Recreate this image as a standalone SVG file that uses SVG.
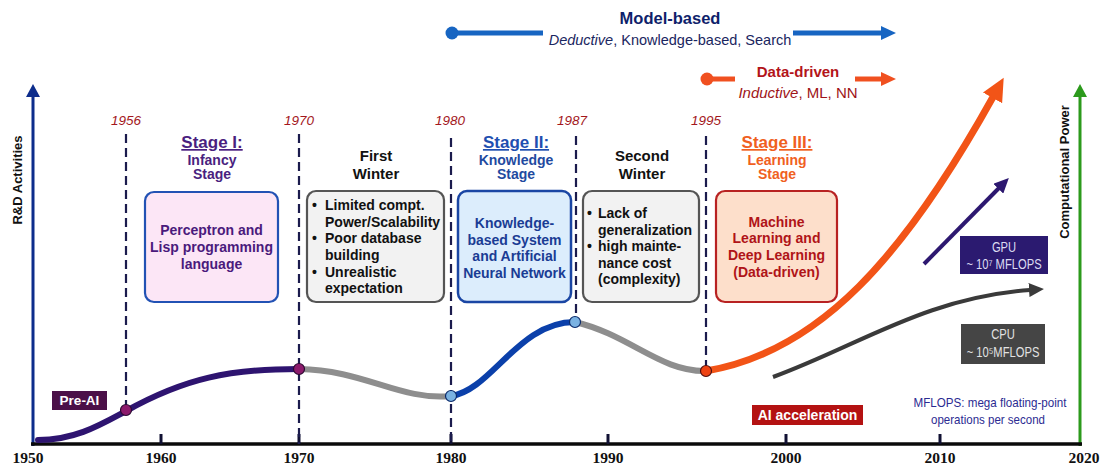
<svg xmlns="http://www.w3.org/2000/svg" width="1101" height="467" viewBox="0 0 1101 467">
  <style>
    text { font-family: "Liberation Sans", Arial, sans-serif; }
    .b { font-weight: bold; }
    .year { font-style: italic; font-size: 13.5px; fill: #a3171c; text-anchor: middle; }
    .axis { font-family: "Liberation Serif", "Times New Roman", serif; font-weight: bold; font-size: 15.5px; fill: #111; text-anchor: middle; }
    .dash { stroke: #1b1b4d; stroke-width: 2.2; stroke-dasharray: 9 5; fill: none; }
    .tick { stroke: #111133; stroke-width: 3; }
    .title { font-weight: bold; font-size: 17px; text-anchor: middle; text-decoration: underline; }
    .sub { font-weight: bold; font-size: 14px; text-anchor: middle; }
    .boxt { font-weight: bold; font-size: 14px; text-anchor: middle; }
    .list { font-weight: bold; font-size: 14px; fill: #111; }
    .curve { fill: none; stroke-width: 6; stroke-linecap: round; }
    .chip { font-size: 14px; text-anchor: middle; }
    .note { font-size: 13px; text-anchor: middle; fill: #2b2b92; }
  </style>
  <defs>
    <marker id="headOrange" markerUnits="userSpaceOnUse" markerWidth="24" markerHeight="22" refX="1" refY="11" orient="auto">
      <path d="M0,0 L23,11 L0,22 Z" fill="#f25417"/>
    </marker>
    <marker id="headOrangeSm" markerUnits="userSpaceOnUse" markerWidth="16" markerHeight="16" refX="1" refY="8" orient="auto">
      <path d="M0,1 L15,8 L0,15 Z" fill="#f05020"/>
    </marker>
    <marker id="headBlue" markerUnits="userSpaceOnUse" markerWidth="16" markerHeight="16" refX="1" refY="8" orient="auto">
      <path d="M0,1 L15,8 L0,15 Z" fill="#1765c2"/>
    </marker>
    <marker id="headPurple" markerUnits="userSpaceOnUse" markerWidth="16" markerHeight="14" refX="1" refY="7" orient="auto">
      <path d="M0,0 L15,7 L0,14 Z" fill="#2d1870"/>
    </marker>
    <marker id="headGray" markerUnits="userSpaceOnUse" markerWidth="16" markerHeight="14" refX="1" refY="7" orient="auto">
      <path d="M0,0 L15,7 L0,14 Z" fill="#3a3a3a"/>
    </marker>
    <marker id="headAxisBlue" markerUnits="userSpaceOnUse" markerWidth="14" markerHeight="14" refX="1" refY="7" orient="auto">
      <path d="M0,0 L13,7 L0,14 Z" fill="#0d2d8c"/>
    </marker>
    <marker id="headAxisGreen" markerUnits="userSpaceOnUse" markerWidth="14" markerHeight="14" refX="1" refY="7" orient="auto">
      <path d="M0,0 L13,7 L0,14 Z" fill="#2c9a1c"/>
    </marker>
  </defs>

  <rect width="1101" height="467" fill="#ffffff"/>

  <!-- paradigm bands across the top -->
  <g id="model-based">
    <circle cx="452" cy="33" r="6.5" fill="#1765c2"/>
    <line x1="452" y1="33" x2="543" y2="33" stroke="#1765c2" stroke-width="5"/>
    <line x1="793" y1="33" x2="882" y2="33" stroke="#1765c2" stroke-width="5" marker-end="url(#headBlue)"/>
    <text x="670" y="24" class="b" font-size="16.5" text-anchor="middle" fill="#0f1f6b">Model-based</text>
    <text x="670" y="45" font-size="14.5" text-anchor="middle" fill="#1a2660"><tspan font-style="italic">Deductive</tspan>, Knowledge-based, Search</text>
  </g>
  <g id="data-driven">
    <circle cx="707" cy="79" r="6.5" fill="#f05020"/>
    <line x1="707" y1="79" x2="735" y2="79" stroke="#f05020" stroke-width="5"/>
    <line x1="855" y1="79" x2="882" y2="79" stroke="#f05020" stroke-width="5" marker-end="url(#headOrangeSm)"/>
    <text x="798" y="77" class="b" font-size="15" text-anchor="middle" fill="#b3141a">Data-driven</text>
    <text x="798" y="98" font-size="15" text-anchor="middle" fill="#9e1418"><tspan font-style="italic">Inductive</tspan>, ML, NN</text>
  </g>

  <!-- axes -->
  <g id="axes">
    <line x1="33" y1="446" x2="33" y2="96" stroke="#0d2d8c" stroke-width="3" marker-end="url(#headAxisBlue)"/>
    <line x1="1080" y1="446" x2="1080" y2="96" stroke="#2c9a1c" stroke-width="3" marker-end="url(#headAxisGreen)"/>
    <line x1="31" y1="444" x2="1082" y2="444" stroke="#0a0a0a" stroke-width="3.5"/>
    <line class="tick" x1="161" y1="434" x2="161" y2="444"/>
    <line class="tick" x1="299" y1="434" x2="299" y2="444"/>
    <line class="tick" x1="451" y1="434" x2="451" y2="444"/>
    <line class="tick" x1="608" y1="434" x2="608" y2="444"/>
    <line class="tick" x1="786" y1="434" x2="786" y2="444"/>
    <line class="tick" x1="940" y1="434" x2="940" y2="444"/>
    <text class="axis" x="28" y="463">1950</text>
    <text class="axis" x="161" y="463">1960</text>
    <text class="axis" x="299" y="463">1970</text>
    <text class="axis" x="451" y="463">1980</text>
    <text class="axis" x="608" y="463">1990</text>
    <text class="axis" x="786" y="463">2000</text>
    <text class="axis" x="940" y="463">2010</text>
    <text class="axis" x="1084" y="463">2020</text>
    <text class="b" font-size="13" text-anchor="middle" fill="#111" transform="translate(22,180) rotate(-90)">R&amp;D Activities</text>
    <text class="b" font-size="13" text-anchor="middle" fill="#111" transform="translate(1069,172) rotate(-90)">Computational Power</text>
  </g>

  <!-- milestone years and dashed markers -->
  <g id="milestones">
    <text class="year" x="126" y="125">1956</text>
    <text class="year" x="299" y="125">1970</text>
    <text class="year" x="450" y="125">1980</text>
    <text class="year" x="572" y="125">1987</text>
    <text class="year" x="706" y="125">1995</text>
    <line class="dash" x1="126" y1="134" x2="126" y2="406"/>
    <line class="dash" x1="299" y1="134" x2="299" y2="444"/>
    <line class="dash" x1="451" y1="138" x2="451" y2="444"/>
    <line class="dash" x1="576" y1="136" x2="576" y2="318"/>
    <line class="dash" x1="706" y1="136" x2="706" y2="367"/>
  </g>

  <!-- Stage I -->
  <g id="stage1">
    <text class="title" x="212" y="148" fill="#4a1f80">Stage I:</text>
    <text class="sub" x="212" y="165" fill="#4a1f80">Infancy</text>
    <text class="sub" x="212" y="179" fill="#4a1f80">Stage</text>
    <rect x="145" y="192" width="133" height="110" rx="9" fill="#fce6f6" stroke="#2252b4" stroke-width="2.2"/>
    <text class="boxt" x="211.5" y="235" fill="#4a1a7c">Perceptron and</text>
    <text class="boxt" x="211.5" y="252" fill="#4a1a7c">Lisp programming</text>
    <text class="boxt" x="211.5" y="269" fill="#4a1a7c">language</text>
  </g>

  <!-- First Winter -->
  <g id="winter1">
    <text class="b" x="376" y="161" font-size="15" text-anchor="middle" fill="#111">First</text>
    <text class="b" x="376" y="179" font-size="15" text-anchor="middle" fill="#111">Winter</text>
    <rect x="307" y="191" width="137" height="111" rx="9" fill="#f2f2f2" stroke="#555555" stroke-width="2.2"/>
    <text class="list" x="312" y="210">•</text>
    <text class="list" x="325" y="210">Limited compt.</text>
    <text class="list" x="325" y="227">Power/Scalability</text>
    <text class="list" x="312" y="243">•</text>
    <text class="list" x="325" y="243">Poor database</text>
    <text class="list" x="325" y="260">building</text>
    <text class="list" x="312" y="277">•</text>
    <text class="list" x="325" y="277">Unrealistic</text>
    <text class="list" x="325" y="293">expectation</text>
  </g>

  <!-- Stage II -->
  <g id="stage2">
    <text class="title" x="516" y="148" fill="#1f4fb0">Stage II:</text>
    <text class="sub" x="516" y="165" fill="#1f4aa0">Knowledge</text>
    <text class="sub" x="516" y="179" fill="#1f4aa0">Stage</text>
    <rect x="458" y="191" width="113" height="111" rx="9" fill="#dcedfc" stroke="#1a46a4" stroke-width="2.5"/>
    <text class="boxt" x="514.5" y="228" fill="#1a3c94">Knowledge-</text>
    <text class="boxt" x="514.5" y="245" fill="#1a3c94">based System</text>
    <text class="boxt" x="514.5" y="261" fill="#1a3c94">and Artificial</text>
    <text class="boxt" x="514.5" y="278" fill="#1a3c94">Neural Network</text>
  </g>

  <!-- Second Winter -->
  <g id="winter2">
    <text class="b" x="642" y="161" font-size="15" text-anchor="middle" fill="#111">Second</text>
    <text class="b" x="642" y="179" font-size="15" text-anchor="middle" fill="#111">Winter</text>
    <rect x="583" y="191" width="116" height="111" rx="9" fill="#f2f2f2" stroke="#555555" stroke-width="2.2"/>
    <text class="list" x="587" y="218">•</text>
    <text class="list" x="598" y="218">Lack of</text>
    <text class="list" x="598" y="235">generalization</text>
    <text class="list" x="587" y="251">•</text>
    <text class="list" x="598" y="251">high mainte-</text>
    <text class="list" x="598" y="268">nance cost</text>
    <text class="list" x="598" y="284">(complexity)</text>
  </g>

  <!-- Stage III -->
  <g id="stage3">
    <text class="title" x="777" y="148" fill="#f0601e">Stage III:</text>
    <text class="sub" x="777" y="165" fill="#f0601e">Learning</text>
    <text class="sub" x="777" y="179" fill="#f0601e">Stage</text>
    <rect x="716" y="191" width="121" height="111" rx="9" fill="#fddfcb" stroke="#b82222" stroke-width="2.2"/>
    <text class="boxt" x="776.5" y="227" fill="#b01418">Machine</text>
    <text class="boxt" x="776.5" y="243" fill="#b01418">Learning and</text>
    <text class="boxt" x="776.5" y="260" fill="#b01418">Deep Learning</text>
    <text class="boxt" x="776.5" y="277" fill="#b01418">(Data-driven)</text>
  </g>

  <!-- activity curve and trend arrows -->
  <g id="connectors">
    <path class="curve" stroke="#2e1470" d="M38,440 C75,440 100,425 126,411 C185,378 230,369 299,369"/>
    <path class="curve" stroke="#8e8e8e" d="M299,369 C365,370 400,401 451,396"/>
    <path class="curve" stroke="#0b40aa" d="M451,396 C492,390 518,322 575,322"/>
    <path class="curve" stroke="#8e8e8e" d="M575,322 C630,335 660,372 706,371"/>
    <path fill="none" stroke="#f25417" stroke-width="7" d="M706,371 C820,352 905,255 993,97" marker-end="url(#headOrange)"/>
    <line x1="924" y1="264" x2="999" y2="188" stroke="#2d1870" stroke-width="4" marker-end="url(#headPurple)"/>
    <path fill="none" stroke="#3a3a3a" stroke-width="4" d="M773,377 C860,345 925,298 1030,290" marker-end="url(#headGray)"/>
  </g>

  <!-- milestone dots on the curve -->
  <g id="dots">
    <circle cx="126" cy="410" r="5.5" fill="#8c1a6c" stroke="#2a0a30" stroke-width="1.2"/>
    <circle cx="299" cy="369" r="5.5" fill="#8c1a6c" stroke="#2a0a30" stroke-width="1.2"/>
    <circle cx="451" cy="396" r="5.5" fill="#7ab2e2" stroke="#0b2a6a" stroke-width="1.2"/>
    <circle cx="575" cy="322" r="5.5" fill="#7ab2e2" stroke="#0b2a6a" stroke-width="1.2"/>
    <circle cx="706" cy="371" r="5.5" fill="#ee4212" stroke="#501010" stroke-width="1.2"/>
  </g>

  <!-- labels -->
  <g id="pre-ai">
    <rect x="52" y="391" width="55" height="19" fill="#4b1048"/>
    <text class="b" x="79.5" y="405" font-size="13.5" text-anchor="middle" fill="#ffffff">Pre-AI</text>
  </g>
  <g id="ai-acceleration">
    <rect x="752" y="405" width="111" height="20" fill="#b41212"/>
    <text class="b" x="807.5" y="420" font-size="14" text-anchor="middle" fill="#ffffff">AI acceleration</text>
  </g>
  <g id="gpu">
    <rect x="960" y="236" width="88" height="38" fill="#2b1a70"/>
    <text class="chip" transform="translate(1004,252) scale(0.8,1)" fill="#dcdcf2">GPU</text>
    <text class="chip" transform="translate(1004,269) scale(0.8,1)" fill="#dcdcf2">~ 10⁷ MFLOPS</text>
  </g>
  <g id="cpu">
    <rect x="961" y="324" width="84" height="40" fill="#454545"/>
    <text class="chip" transform="translate(1003,339) scale(0.8,1)" fill="#e2e2e2">CPU</text>
    <text class="chip" transform="translate(1003,357) scale(0.8,1)" fill="#e2e2e2">~ 10⁵MFLOPS</text>
  </g>
  <g id="note">
    <text class="note" x="990" y="407" textLength="153" lengthAdjust="spacingAndGlyphs">MFLOPS: mega floating-point</text>
    <text class="note" x="988" y="424" textLength="114" lengthAdjust="spacingAndGlyphs">operations per second</text>
  </g>
</svg>
